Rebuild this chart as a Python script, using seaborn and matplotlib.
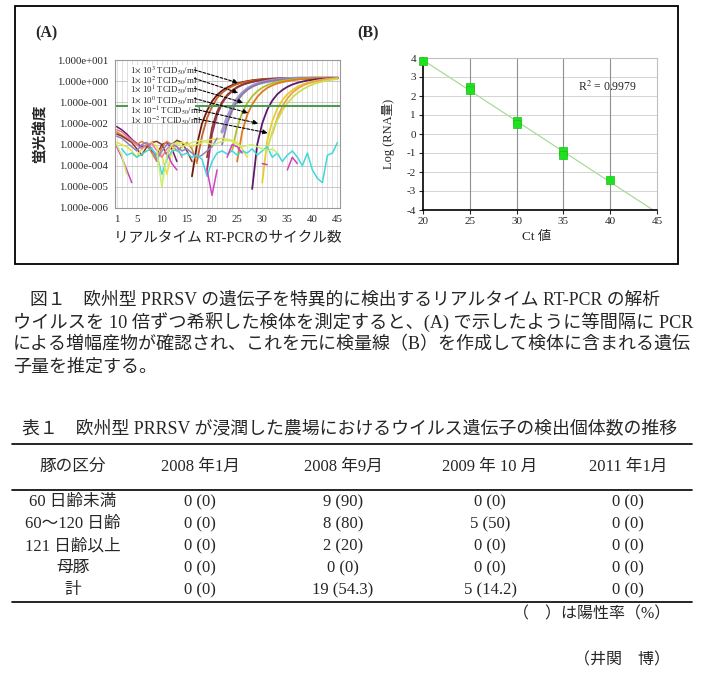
import numpy as np
import matplotlib
matplotlib.use('Agg')
import matplotlib.pyplot as plt
import seaborn as sns
from matplotlib.ticker import FuncFormatter
from matplotlib.patches import Rectangle
from matplotlib.lines import Line2D

# ---------------- data ----------------
# (A) amplification curves: first cycle + log10 fluorescence per cycle
amp_1e3_a = (16, [-4.5, -3.0, -2.0, -1.4, -0.95, -0.65, -0.45, -0.30, -0.19, -0.11, -0.05, 0.00, 0.04, 0.07, 0.09,
                  0.11, 0.12, 0.13, 0.14, 0.14, 0.15, 0.15, 0.15, 0.15, 0.15, 0.15, 0.15, 0.15, 0.15, 0.15])
amp_1e3_b = (17, [-3.8, -2.6, -1.75, -1.2, -0.8, -0.55, -0.37, -0.24, -0.14, -0.07, -0.02, 0.02, 0.05, 0.08, 0.10,
                  0.11, 0.12, 0.13, 0.14, 0.14, 0.15, 0.15, 0.15, 0.15, 0.15, 0.15, 0.15, 0.15, 0.15])
amp_1e2_a = (19, [-4.2, -2.5, -1.6, -1.05, -0.7, -0.47, -0.3, -0.18, -0.1, -0.04, 0.01, 0.05, 0.08, 0.10,
                  0.11, 0.12, 0.13, 0.14, 0.14, 0.15, 0.15, 0.15, 0.15, 0.15, 0.15, 0.15, 0.15])
amp_1e2_b = (19, [-3.6, -2.2, -1.45, -0.98, -0.66, -0.44, -0.28, -0.17, -0.09, -0.03, 0.02, 0.05, 0.08, 0.10,
                  0.11, 0.12, 0.13, 0.14, 0.14, 0.15, 0.15, 0.15, 0.15, 0.15, 0.15, 0.15, 0.15])
amp_1e1_a = (22, [-2.4, -1.75, -1.25, -0.85, -0.57, -0.37, -0.23, -0.13, -0.06, -0.01, 0.03, 0.06, 0.09,
                  0.11, 0.12, 0.13, 0.14, 0.14, 0.15, 0.15, 0.15, 0.15, 0.15, 0.15])
amp_1e1_b = (22, [-3.0, -2.0, -1.4, -0.95, -0.63, -0.41, -0.26, -0.15, -0.07, -0.02, 0.02, 0.06, 0.08,
                  0.10, 0.12, 0.13, 0.14, 0.14, 0.15, 0.15, 0.15, 0.15, 0.15, 0.15])
amp_1e0_a = (24, [-3.3, -2.2, -1.5, -1.05, -0.72, -0.48, -0.31, -0.19, -0.1, -0.04, 0.01, 0.05, 0.08,
                  0.10, 0.12, 0.13, 0.14, 0.14, 0.15, 0.15, 0.15, 0.15])
amp_1e0_b = (25, [-3.8, -2.4, -1.6, -1.1, -0.75, -0.5, -0.32, -0.2, -0.11, -0.05, 0.0, 0.04, 0.07,
                  0.10, 0.11, 0.13, 0.14, 0.14, 0.15, 0.15, 0.15])
amp_1em1_a = (28, [-5.1, -3.0, -2.0, -1.35, -0.92, -0.62, -0.42, -0.27, -0.16, -0.08, -0.02, 0.03, 0.06,
                   0.09, 0.11, 0.12, 0.13, 0.14])
amp_1em1_b = (30, [-4.8, -2.8, -1.9, -1.3, -0.9, -0.62, -0.42, -0.27, -0.16, -0.08, -0.02, 0.03, 0.07,
                   0.10, 0.12, 0.14])
amp_1em2_a = (32, [-2.5, -1.75, -1.2, -0.82, -0.55, -0.36, -0.22, -0.12, -0.05, 0.01, 0.06, 0.09, 0.12, 0.14])
amp_1em2_b = (31, [-3.2, -2.4, -1.85, -1.4, -1.05, -0.78, -0.56, -0.4, -0.27, -0.16, -0.08, -0.02, 0.03,
                   0.07, 0.10])
amp_curves = [amp_1e3_a, amp_1e3_b, amp_1e2_a, amp_1e2_b, amp_1e1_a, amp_1e1_b,
              amp_1e0_a, amp_1e0_b, amp_1em1_a, amp_1em1_b, amp_1em2_a, amp_1em2_b]
amp_colors = ['#6b1a12', '#c8602a', '#a02a78', '#8c3c22', '#a898d0', '#8a7aa8',
              '#b0c028', '#e07a1a', '#5c1a6c', '#e8cc30', '#f0a048', '#c8e050']

# baseline traces from cycle 1
base_purple = [-2.15, -2.3, -2.5, -2.75, -2.95, -3.1, -3.05, -3.3, -3.5, -3.0, -2.9, -3.2, -3.8]
base_orange = [-2.4, -2.55, -2.7, -2.8, -3.0, -2.85, -3.0, -3.4, -3.8, -3.1, -2.85, -3.0, -3.3, -3.1, -2.9, -3.2, -3.9]
base_brown = [-2.5, -2.6, -2.75, -2.9, -3.2, -3.5, -3.1, -2.9, -2.85, -3.0, -3.5, -3.0, -2.8, -2.9, -3.3, -3.8]
base_yellow = [-2.9, -3.0, -3.1, -3.3, -3.6, -3.2, -3.0, -2.9, -3.1, -3.5, -4.4, -3.3, -2.95, -2.9, -3.0, -3.1,
               -3.0, -2.9, -2.8, -2.75, -2.75, -2.7, -2.75, -2.8, -2.9, -3.2, -3.6]
base_pink = [-2.3, -2.4, -2.6, -2.8, -3.0, -3.2, -3.0, -2.95, -3.3, -3.6, -3.2, -3.0, -3.1, -3.6]
base_lavender = [-2.6, -2.7, -2.9, -3.1, -3.3, -3.0, -2.9, -3.2, -3.7, -3.3, -3.0, -2.95, -3.1, -3.3, -3.2,
                 -3.4, -3.6, -3.5, -3.3, -3.1, -2.7]
base_traces = [base_purple, base_orange, base_brown, base_yellow, base_pink, base_lavender]
base_colors = ['#6a1e6a', '#e08030', '#8a3a1a', '#e8e040', '#e878a8', '#9080c0']

nan = np.nan
noise_cyan = [nan, -3.2, -3.5, -3.4, -3.6, -3.45, -3.3, -3.2, -3.5, -4.4, -3.7, -3.3, -3.25, -3.5, -3.4,
              -3.6, -3.5, -3.7, -4.5, -3.8, -3.4, -3.3, -3.45, -3.3, -3.5, -3.3, -3.4, -3.2, -3.5, -3.3,
              -3.1, -3.6, -3.4, -3.8, -3.5, -3.3, -3.6, -4.0, -3.4, -4.2, -4.6, -4.8, -3.5, -3.4, -2.9]
noise_magenta = [-3.1, -3.6, -4.2, -4.8, nan, nan, nan, nan, nan, nan, -3.4, -3.9, -4.2, nan, nan,
                 nan, nan, nan, -4.2, -5.4, -4.2, nan, -3.6, -3.0, -3.1, -3.4, nan, nan, nan, -3.9,
                 -3.95, nan, nan, nan, -4.2, -3.6, -3.9, nan, nan, nan, nan, nan, nan, nan, nan]
noise_green = [-3.0, -3.5, -4.4, nan, nan, nan, nan, nan, -3.3, -5.0, -3.5, -3.0, -2.9, -3.1, -3.0,
               -2.9, -2.85, -2.8, -2.9, -3.0, -2.95, -2.85, -2.8, -2.85, -3.0, -3.1, -3.05, -3.0, -3.1, -3.2,
               -3.3, -3.2, -3.4, nan, nan, nan, nan, nan, nan, nan, nan, nan, nan, nan, nan]
noise_traces = [noise_cyan, noise_magenta, noise_green]
noise_colors = ['#40d8d8', '#d040c0', '#c8f070']

threshold_log = -1.17
dilution_labels = [r'1$\times$ 10$^{3}$ TCID$_{50}$/ml', r'1$\times$ 10$^{2}$ TCID$_{50}$/ml',
                   r'1$\times$ 10$^{1}$ TCID$_{50}$/ml', r'1$\times$ 10$^{0}$ TCID$_{50}$/ml',
                   r'1$\times$ 10$^{-1}$ TCID$_{50}$/ml', r'1$\times$ 10$^{-2}$ TCID$_{50}$/ml']
label_log = [0.53, 0.13, -0.34, -0.82, -1.32, -1.76]
arrow_end_cycle = [25.2, 25.2, 26.2, 27.2, 29.2, 31.1]
arrow_end_log = [-0.08, -0.55, -1.02, -1.5, -2.0, -2.45]

# (B) standard curve
ct_values = [20, 25, 25, 30, 30, 35, 35, 40]
log_rna = [3.86, 2.45, 2.3, 0.68, 0.55, -0.9, -1.1, -2.4]
r2_text = 'R$^2$ = 0.9979'

# caption / table
caption_lines = ['図１　欧州型 PRRSV の遺伝子を特異的に検出するリアルタイム RT-PCR の解析',
                 'ウイルスを 10 倍ずつ希釈した検体を測定すると、(A) で示したように等間隔に PCR',
                 'による増幅産物が確認され、これを元に検量線（B）を作成して検体に含まれる遺伝',
                 '子量を推定する。']
table_title = '表１　欧州型 PRRSV が浸潤した農場におけるウイルス遺伝子の検出個体数の推移'
headers = ['豚の区分', '2008 年1月', '2008 年9月', '2009 年 10 月', '2011 年1月']
row_labels = ['60 日齢未満', '60～120 日齢', '121 日齢以上', '母豚', '計']
col_2008_01 = ['0 (0)', '0 (0)', '0 (0)', '0 (0)', '0 (0)']
col_2008_09 = ['9 (90)', '8 (80)', '2 (20)', '0 (0)', '19 (54.3)']
col_2009_10 = ['0 (0)', '5 (50)', '0 (0)', '0 (0)', '5 (14.2)']
col_2011_01 = ['0 (0)', '0 (0)', '0 (0)', '0 (0)', '0 (0)']
table_note = '（　）は陽性率（%）'
author = '（井関　博）'

# ---------------- style ----------------
sns.set_theme(style='white')
MIX = ['Liberation Serif', 'Noto Sans CJK JP']
plt.rcParams['font.family'] = MIX
plt.rcParams['mathtext.fontset'] = 'stix'
plt.rcParams['axes.unicode_minus'] = False

W, H = 705, 682
fig = plt.figure(figsize=(W / 100, H / 100), dpi=100)
renderer = fig.canvas.get_renderer()


def fx(x):
    return x / W


def fy(y):
    return 1 - y / H


fig.add_artist(Rectangle((fx(15), fy(264)), 663 / W, 258 / H, transform=fig.transFigure,
                         fill=False, lw=1.3, ec='black'))

# ---------------- panel A ----------------
ax = fig.add_axes([fx(115), fy(208), 225 / W, 148 / H])
ax.set_yscale('log')
for (start, vals), c in zip(amp_curves, amp_colors):
    lw = 2.4 if c == '#a898d0' else 1.3
    sns.lineplot(x=np.arange(start, start + len(vals)), y=10 ** np.array(vals), color=c, lw=lw,
                 ax=ax, legend=False, zorder=2)
for vals, c in zip(base_traces, base_colors):
    sns.lineplot(x=np.arange(1, len(vals) + 1), y=10 ** np.array(vals), color=c, lw=1.1,
                 ax=ax, legend=False, zorder=2)
for vals, c in zip(noise_traces, noise_colors):
    ax.plot(np.arange(1, len(vals) + 1), 10 ** np.array(vals), color=c, lw=1.1, zorder=2)
ax.axhline(10 ** threshold_log, color='#4a9a4a', lw=1.4, zorder=2.5)

ax.set_xlim(0.66, 45.5)
ax.set_ylim(1e-6, 1e1)
ax.set_xticks([1, 5, 10, 15, 20, 25, 30, 35, 40, 45])
ax.set_xticks(np.arange(1, 46), minor=True)
ax.set_yticks([10.0 ** e for e in range(-6, 2)])
ax.yaxis.set_minor_locator(matplotlib.ticker.NullLocator())
ax.yaxis.set_major_formatter(FuncFormatter(
    lambda v, p: '1.000e%s%03d' % ('+' if v >= 1 else '-', abs(int(round(np.log10(v)))))))
ax.grid(True, which='both', axis='x', color='#dcdcdc', lw=0.6, zorder=0)
ax.grid(True, which='major', axis='y', color='#c8c8c8', lw=0.7, zorder=0)
ax.tick_params(which='both', length=0, labelsize=7.8, pad=5)
for s in ax.spines.values():
    s.set_color('#999999')
    s.set_linewidth(0.8)
ax.set_xlabel('リアルタイム RT-PCRのサイクル数', fontsize=10.5)
ax.xaxis.set_label_coords(0.5, -0.165)
ax.set_ylabel('蛍光強度', fontsize=10.5, fontweight='bold')
ax.yaxis.set_label_coords(-0.30, 0.5)

ax.add_patch(Rectangle((3.2, 10 ** -2.0), 13.4, 10 ** 0.78 - 10 ** -2.0, facecolor='white',
                       edgecolor='none', zorder=3))
ax.text(3.6, 10 ** 0.78, '\n'.join(dilution_labels), fontsize=6.3, va='top', ha='left',
        linespacing=0.7, zorder=4)
for ly, ex, ey in zip(label_log, arrow_end_cycle, arrow_end_log):
    ax.annotate('', xy=(ex, 10 ** ey), xytext=(16.5, 10 ** ly), zorder=5,
                arrowprops=dict(arrowstyle='-|>', linestyle=(0, (2.5, 1.5)), lw=0.8, color='black',
                                mutation_scale=7, shrinkA=0, shrinkB=0))

fig.text(fx(35), fy(33), '(A)', fontsize=11.5, fontweight='bold', va='center', ha='left')
fig.text(fx(357), fy(33), '(B)', fontsize=11.5, fontweight='bold', va='center', ha='left')

# ---------------- panel B ----------------
bx = fig.add_axes([fx(423), fy(210), 234 / W, 152 / H])
coef = np.polyfit(ct_values, log_rna, 1)
sns.lineplot(x=[20, 45], y=np.polyval(coef, [20, 45]), color='#a8dc98', lw=0.9, ax=bx, zorder=2)
sns.scatterplot(x=ct_values, y=log_rna, marker='s', s=32, color='#20e020', edgecolor='#18c018',
                linewidth=0.5, ax=bx, zorder=3, clip_on=False)
bx.set_xlim(20, 45)
bx.set_ylim(-4, 4)
bx.set_xticks([20, 25, 30, 35, 40, 45])
bx.set_yticks(range(-4, 5))
bx.grid(True, axis='y', color='#d4d4d4', lw=0.7, zorder=0)
for xv in [25, 30, 35, 40]:
    bx.axvline(xv, color='#909090', lw=0.8, zorder=1)
bx.tick_params(length=3, width=0.8, labelsize=8, pad=2, left=True, bottom=True)
for side in ['left', 'bottom']:
    bx.spines[side].set_color('black')
    bx.spines[side].set_linewidth(1.2)
for side in ['top', 'right']:
    bx.spines[side].set_color('#c0c0c0')
    bx.spines[side].set_linewidth(0.8)
bx.text(36.6, 2.47, r2_text, fontsize=8.5, va='center', ha='left')
bx.set_xlabel('Ct 値', fontsize=9.5)
bx.xaxis.set_label_coords(0.487, -0.14)
bx.set_ylabel('Log (RNA量)', fontsize=9)
bx.yaxis.set_label_coords(-0.12, 0.5)


# ---------------- caption & table ----------------
def put(x, y, s, size, width=None, ha='left'):
    t = fig.text(fx(x), fy(y), s, fontsize=size, ha=ha, va='center')
    if width:
        w = t.get_window_extent(renderer).width
        t.set_fontsize(size * width / w)
    return t


put(30, 300, caption_lines[0], 12, width=630)
put(13, 322, caption_lines[1], 12, width=677)
t3 = put(13, 345, caption_lines[2], 12, width=677)
put(13, 367, caption_lines[3], t3.get_fontsize())

put(22, 430, table_title, 11, width=656)
for yy in [444, 490, 602]:
    fig.add_artist(Line2D([fx(12), fx(692)], [fy(yy), fy(yy)], color='black', lw=1.2,
                          transform=fig.transFigure))
col_x = [73, 200, 343, 490, 628]
for cx, h in zip(col_x, headers):
    put(cx, 467, h, 12, ha='center')
row_y = [502, 524, 546, 568, 590]
columns = [row_labels, col_2008_01, col_2008_09, col_2009_10, col_2011_01]
for cx, col in zip(col_x, columns):
    for ry, cell in zip(row_y, col):
        put(cx, ry, cell, 12, ha='center')
put(670, 614, table_note, 11.5, ha='right')
put(670, 660, author, 11.5, ha='right')

fig.savefig('out.png', dpi=100)
